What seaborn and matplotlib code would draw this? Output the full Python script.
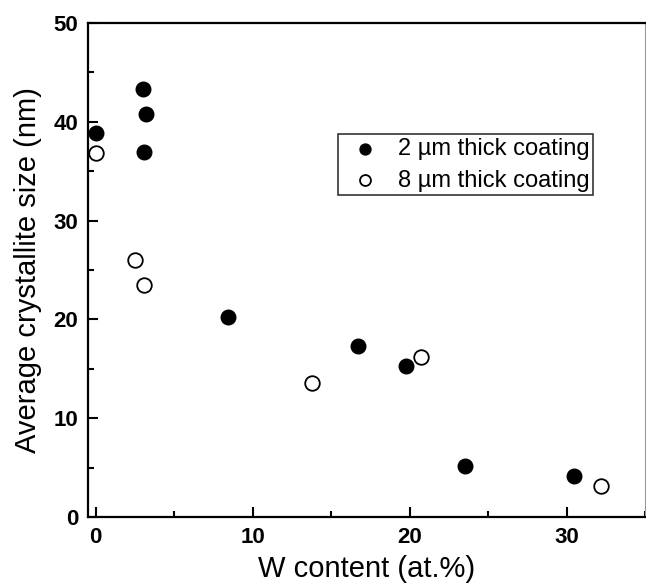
import matplotlib
matplotlib.use("Agg")
import matplotlib.pyplot as plt
import seaborn as sns
import pandas as pd
from matplotlib.ticker import MultipleLocator

# Data
w_2um = [0.0, 3.0, 3.2, 3.1, 8.4, 16.7, 19.8, 23.5, 30.5]
size_2um = [38.9, 43.3, 40.8, 36.9, 20.2, 17.3, 15.3, 5.2, 4.1]
w_8um = [0.0, 2.5, 3.05, 13.75, 20.75, 32.2]
size_8um = [36.8, 26.0, 23.5, 13.6, 16.2, 3.1]
labels = ["2 \u00b5m thick coating", "8 \u00b5m thick coating"]

df2 = pd.DataFrame({"W": w_2um, "size": size_2um})
df8 = pd.DataFrame({"W": w_8um, "size": size_8um})

sns.set_style("ticks")
plt.rcParams["font.family"] = ["Liberation Sans", "DejaVu Sans"]
plt.rcParams["text.color"] = "black"
plt.rcParams["axes.labelcolor"] = "black"
plt.rcParams["xtick.color"] = "black"
plt.rcParams["ytick.color"] = "black"

fig = plt.figure(figsize=(6.46, 5.83), dpi=100)
ax = fig.add_axes([0.136, 0.1132, 0.8625, 0.8473])

sns.scatterplot(data=df2, x="W", y="size", ax=ax, s=110, color="black",
                edgecolor="black", linewidth=1.0, label=labels[0], zorder=3)
sns.scatterplot(data=df8, x="W", y="size", ax=ax, s=110, facecolor="white",
                edgecolor="black", linewidth=1.3, label=labels[1], zorder=3)

ax.set_xlim(-0.5, 35)
ax.set_ylim(0, 50)
ax.xaxis.set_major_locator(MultipleLocator(10))
ax.xaxis.set_minor_locator(MultipleLocator(5))
ax.yaxis.set_major_locator(MultipleLocator(10))
ax.yaxis.set_minor_locator(MultipleLocator(5))
ax.tick_params(which="both", direction="in", top=False, right=False, width=1.5,
               color="black", labelcolor="black", pad=7, labelsize=16)
ax.tick_params(which="major", length=7)
ax.tick_params(which="minor", length=4)

for side in ["left", "bottom", "top"]:
    ax.spines[side].set_linewidth(1.6)
    ax.spines[side].set_color("black")
ax.spines["right"].set_linewidth(0.8)
ax.spines["right"].set_color("#999999")

ax.set_xlabel("W content (at.%)", fontsize=21, labelpad=5, color="black")
ax.set_ylabel("Average crystallite size (nm)", fontsize=21, labelpad=8, color="black")

leg = ax.legend(loc="upper left", bbox_to_anchor=(0.449, 0.775), borderaxespad=0,
                fontsize=17, frameon=True, fancybox=False, handletextpad=0.4,
                borderpad=0.15, labelspacing=0.42, markerscale=0.75, handlelength=2.0)
leg.get_frame().set_edgecolor("black")
leg.get_frame().set_linewidth(1.2)
for t in leg.get_texts():
    t.set_color("black")

fig.canvas.draw()
for lab in ax.get_xticklabels() + ax.get_yticklabels():
    lab.set_fontweight("bold")
    lab.set_color("black")

fig.savefig("out.png", dpi=100)
